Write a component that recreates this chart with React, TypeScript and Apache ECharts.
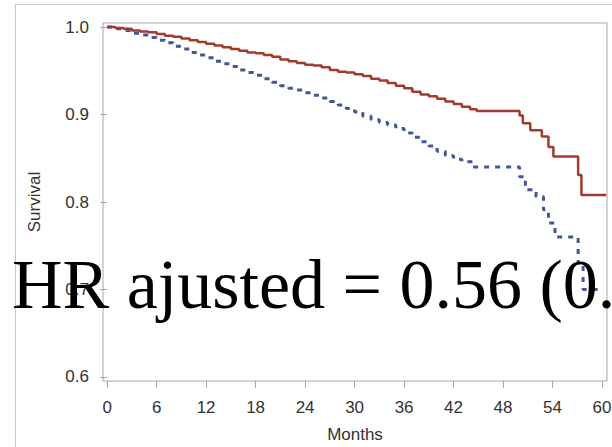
import React, { useEffect, useRef } from "react";
import * as echarts from "echarts";

const xTicks = [0, 6, 12, 18, 24, 30, 36, 42, 48, 54, 60];
const yTicks = [0.6, 0.7, 0.8, 0.9, 1.0];

// Kaplan-Meier estimates: [month, survival]
const redMonths = [0, 1, 2, 3, 4, 5, 6, 7, 8, 9, 10, 11, 12, 13, 14, 15, 16, 17, 18, 19, 20, 21, 22, 23, 24, 25, 26, 27, 28, 29, 30, 31, 32, 33, 34, 35, 36, 37, 38, 39, 40, 41, 42, 43, 44, 44.8, 50.0, 50.4, 51.3, 52.7, 53.5, 54.1, 57.1, 57.5, 60.5];
const redSurvival = [1.0, 0.999, 0.998, 0.996, 0.995, 0.994, 0.992, 0.99, 0.989, 0.987, 0.985, 0.983, 0.981, 0.979, 0.977, 0.975, 0.973, 0.971, 0.97, 0.968, 0.966, 0.963, 0.961, 0.959, 0.957, 0.956, 0.954, 0.951, 0.949, 0.948, 0.946, 0.944, 0.941, 0.939, 0.936, 0.933, 0.93, 0.926, 0.923, 0.921, 0.918, 0.915, 0.912, 0.909, 0.906, 0.904, 0.899, 0.89, 0.882, 0.875, 0.863, 0.852, 0.831, 0.808, 0.808];

const blueMonths = [0, 1, 2, 3, 4, 5, 6, 7, 8, 9, 10, 11, 12, 13, 14, 15, 16, 17, 18, 19, 20, 21, 22, 23, 24, 25, 26, 27, 28, 29, 30, 31, 32, 33, 34, 35, 36, 37, 38, 39, 40, 41, 42, 43, 44.3, 50.0, 50.7, 52.0, 52.9, 53.5, 54.3, 57.1, 57.7, 59.8];
const blueSurvival = [1.0, 0.998, 0.996, 0.993, 0.991, 0.988, 0.985, 0.982, 0.978, 0.975, 0.971, 0.968, 0.965, 0.961, 0.958, 0.955, 0.951, 0.948, 0.945, 0.941, 0.937, 0.933, 0.93, 0.928, 0.925, 0.922, 0.919, 0.915, 0.911, 0.907, 0.903, 0.898, 0.894, 0.891, 0.888, 0.884, 0.879, 0.874, 0.869, 0.864, 0.858, 0.853, 0.849, 0.846, 0.84, 0.829, 0.814, 0.806, 0.791, 0.776, 0.76, 0.73, 0.7, 0.7];

const hrText = "HR ajusted = 0.56 (0.3";

export default function App() {
  const ref = useRef<HTMLDivElement>(null);
  useEffect(() => {
    if (!ref.current) return;
    const chart = echarts.init(ref.current, null, { renderer: "svg" });
    const labelFont = "'Liberation Sans', Arial, sans-serif";
    chart.setOption({
      animation: false,
      backgroundColor: "#ffffff",
      grid: {
        left: 103,
        top: 23,
        right: 5,
        bottom: 66,
        outerBoundsMode: "none",
        containLabel: false,
        show: true,
        borderColor: "#a8a8a8",
        borderWidth: 1,
        backgroundColor: "transparent",
      },
      xAxis: {
        type: "value",
        min: -0.5,
        max: 60.6,
        name: "Months",
        nameLocation: "middle",
        nameGap: 45,
        nameTextStyle: { fontFamily: labelFont, fontSize: 17, color: "#333" },
        axisLine: { show: false },
        splitLine: { show: false },
        axisTick: {
          show: true,
          length: 7,
          inside: false,
          customValues: xTicks,
          lineStyle: { color: "#a8a8a8" },
        },
        axisLabel: {
          customValues: xTicks,
          margin: 18,
          fontFamily: labelFont,
          fontSize: 17,
          color: "#333",
        },
      },
      yAxis: {
        type: "value",
        min: 0.5954,
        max: 1.0046,
        name: "Survival",
        nameLocation: "middle",
        nameGap: 60,
        nameRotate: 90,
        nameTextStyle: { fontFamily: labelFont, fontSize: 17, color: "#333" },
        axisLine: { show: false },
        splitLine: { show: false },
        axisTick: {
          show: true,
          length: 7,
          inside: false,
          customValues: yTicks,
          lineStyle: { color: "#a8a8a8" },
        },
        axisLabel: {
          customValues: yTicks,
          margin: 14,
          fontFamily: labelFont,
          fontSize: 17,
          color: "#333",
          formatter: (v: number) => v.toFixed(1),
        },
      },
      series: [
        {
          type: "line",
          step: "end",
          showSymbol: false,
          symbol: "none",
          data: redMonths.map((m, i) => [m, redSurvival[i]]),
          lineStyle: { color: "#a23a2e", width: 2.5 },
          z: 3,
        },
        {
          type: "line",
          step: "end",
          showSymbol: false,
          symbol: "none",
          data: blueMonths.map((m, i) => [m, blueSurvival[i]]),
          lineStyle: { color: "#445694", width: 3, type: [5, 6] },
          z: 2,
        },
      ],
      graphic: [
        {
          type: "line",
          shape: { x1: 15, y1: 4.5, x2: 612, y2: 4.5 },
          style: { stroke: "#c8c8c8", lineWidth: 1 },
          silent: true,
        },
        {
          type: "line",
          shape: { x1: 15.5, y1: 4, x2: 15.5, y2: 447 },
          style: { stroke: "#c8c8c8", lineWidth: 1 },
          silent: true,
        },
        {
          type: "text",
          x: 12,
          y: 284,
          z: 100,
          style: {
            text: hrText,
            fontFamily: "'Liberation Serif', 'Times New Roman', serif",
            fontSize: 70,
            fill: "#000000",
            verticalAlign: "middle",
            align: "left",
          },
          silent: true,
        },
      ],
    });
    return () => chart.dispose();
  }, []);
  return (
    <div
      ref={ref}
      style={{ position: "fixed", left: 0, top: 0, width: 612, height: 447 }}
    />
  );
}
